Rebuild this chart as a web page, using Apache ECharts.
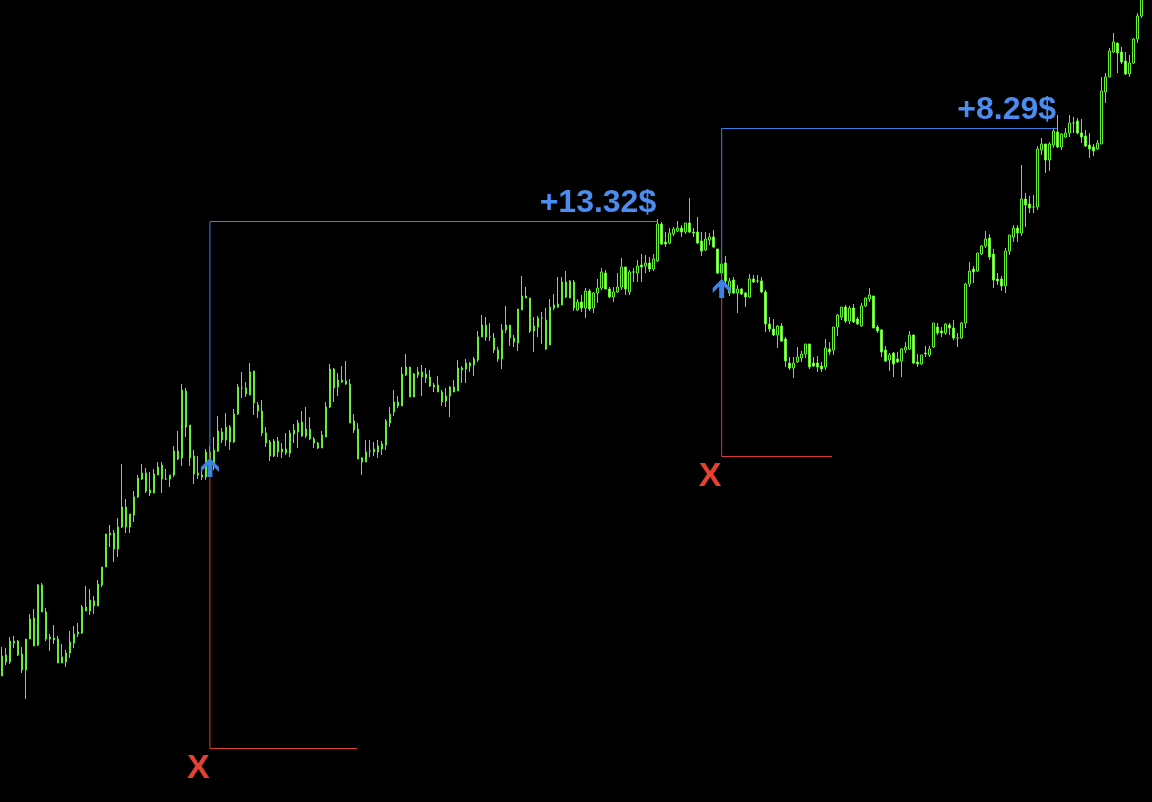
<!DOCTYPE html>
<html><head><meta charset="utf-8">
<script src="https://cdn.jsdelivr.net/npm/echarts@6/dist/echarts.min.js"></script>
<style>html,body{margin:0;padding:0;background:#000;overflow:hidden}#c{width:1152px;height:802px}</style>
</head><body><div id="c"></div><script>
// Price levels (arbitrary price units, 1 unit ~ 1 screen pixel)
const barCount = 288;
const categories = Array.from({length: barCount}, (_, i) => 'bar ' + (i + 1));

const opens = [
126,147,140,161,161,148,132,163,184,157,
217,190,165,164,163,139,140,149,159,168,
169,195,191,201,196,217,235,269,269,253,
275,295,275,287,305,323,329,312,309,327,
337,323,323,327,351,344,411,377,346,329,
327,325,350,336,351,370,362,375,360,388,
414,414,407,431,397,391,369,360,346,361,
350,353,349,368,370,380,366,373,363,359,
354,365,395,433,415,422,421,418,381,373,
344,340,351,353,350,353,357,379,390,400,
396,427,435,405,427,430,424,425,417,417,
410,401,406,415,411,434,433,439,437,442,
465,477,465,464,452,443,472,477,464,459,
492,506,504,471,475,484,482,457,494,495,
497,520,504,520,492,500,494,511,494,509,
514,529,513,505,510,515,535,510,530,529,
537,536,539,533,541,578,560,559,568,571,
574,570,579,570,570,561,552,562,565,553,
529,539,509,522,509,513,509,505,523,521,
521,510,478,473,467,476,463,439,434,440,
444,448,458,439,439,436,435,453,452,475,
485,495,481,494,483,476,496,503,506,475,
472,452,442,449,443,441,452,453,467,440,
438,449,447,455,475,471,469,477,474,464,
464,479,518,533,531,548,556,564,548,523,
523,516,551,565,574,569,603,598,595,595,
652,658,642,657,670,655,665,669,679,681,
669,666,657,655,653,658,710,725,750,759,
750,741,728,739,763,786];
const closes = [
146,140,161,159,147,132,163,183,156,217,
190,163,163,162,139,145,149,160,168,170,
195,191,202,196,218,235,268,267,253,275,
295,275,288,305,324,329,311,309,328,335,
323,323,327,351,343,412,375,344,328,327,
325,350,340,352,371,362,375,360,388,415,
414,408,430,399,391,369,359,346,361,350,
353,349,369,372,379,366,373,363,359,354,
367,395,433,414,422,420,418,379,372,343,
340,350,351,350,356,358,381,388,400,396,
428,435,405,428,430,425,428,416,415,410,
400,406,415,410,434,432,439,436,443,465,
477,465,465,452,443,472,477,464,460,493,
506,504,471,476,484,484,453,495,497,498,
520,505,521,494,500,494,511,493,509,514,
530,513,505,510,515,535,513,530,530,536,
535,539,533,543,578,558,558,569,573,574,
570,579,570,569,559,551,563,565,555,529,
538,521,521,509,513,508,505,523,520,521,
510,478,473,467,476,461,441,434,439,445,
448,458,435,436,435,433,454,450,475,487,
495,481,494,480,478,496,504,507,474,471,
450,441,447,438,440,453,455,467,439,438,
447,448,453,479,469,469,478,474,464,464,
479,518,531,530,549,556,563,545,522,521,
516,551,567,574,569,603,597,594,595,653,
658,642,658,671,655,668,669,679,679,669,
665,656,653,651,659,711,725,751,760,749,
740,728,739,763,786,806];
const lows = [
126,137,138,154,146,129,103,163,156,156,
190,161,151,158,139,139,135,144,154,165,
168,191,187,188,196,215,235,255,240,245,
274,269,269,280,304,322,309,306,309,327,
309,322,315,325,342,336,365,336,318,323,
322,322,332,332,350,359,356,352,359,387,
404,405,407,387,384,366,355,341,345,345,
344,347,345,359,354,365,364,362,354,353,
354,365,394,400,406,419,417,379,369,343,
327,340,345,346,344,347,352,375,386,394,
396,426,405,405,424,406,419,415,410,410,
396,395,385,410,411,419,419,430,426,440,
465,461,461,449,440,433,469,456,455,451,
492,504,469,450,465,458,452,457,492,494,
497,504,504,491,491,490,484,491,489,499,
512,513,504,500,509,512,507,507,520,520,
520,529,530,531,540,557,555,558,566,570,
565,568,569,565,558,546,551,557,554,528,
526,519,506,508,489,507,495,504,519,519,
509,470,470,466,454,460,435,432,424,439,
440,444,433,435,430,430,432,447,447,466,
482,479,478,479,477,475,495,500,474,469,
445,440,431,425,439,425,449,452,438,435,
437,445,445,454,467,465,467,467,462,455,
463,474,515,519,530,547,554,542,514,517,
511,509,547,560,560,566,575,589,589,592,
647,629,631,654,654,652,664,665,669,668,
659,655,644,646,652,658,699,725,749,729,
738,727,725,738,759,784];
const highs = [
155,154,165,166,162,155,163,188,193,218,
219,194,168,177,166,158,152,171,176,179,
197,216,213,206,222,235,268,277,272,284,
338,303,288,311,327,338,334,330,333,340,
340,333,327,356,371,418,414,377,352,346,
335,353,356,365,386,374,389,377,393,418,
430,420,439,431,400,402,375,362,363,365,
359,369,372,378,382,391,395,385,365,360,
371,400,438,434,429,436,441,423,388,379,
345,362,362,360,362,361,383,395,412,406,
435,448,435,429,435,437,434,432,419,426,
412,414,416,422,442,436,443,440,445,471,
487,485,479,469,455,478,496,477,467,493,
526,515,504,485,486,490,494,503,508,525,
525,531,522,522,503,507,514,513,510,523,
534,532,515,515,529,544,535,532,534,542,
548,547,545,548,583,580,570,574,575,581,
577,579,604,574,585,570,570,569,572,553,
540,546,524,525,517,514,510,528,527,527,
525,512,485,483,477,479,465,445,445,455,
451,458,458,445,446,440,463,460,475,488,
495,497,496,498,485,499,505,514,506,477,
473,456,449,450,450,454,460,471,467,448,
447,456,456,479,479,475,479,479,482,469,
480,519,540,536,549,557,571,568,553,529,
526,554,567,577,577,637,609,606,607,656,
664,658,660,674,687,669,674,687,685,684,
683,672,669,658,662,725,729,754,769,759,
755,750,747,764,789,808];

// Two trades: entry bar, level where the entry is marked, take-profit / stop-loss levels
const entryBars   = [52, 180];
const entryLevels = [350, 529];
const tpLevels    = [580.5, 673.5];
const tpEndBars   = [164, 264];
const slLevels    = [53.5, 345.5];
const slEndBars   = [88.8, 207.6];
const profitLabels = ['+13.32$', '+8.29$'];
const stopLabels   = ['X', 'X'];

const GREEN = '#66ee33', BLUE_LINE = '#3f7fe2', BLUE_TEXT = '#4a8cf0', RED = '#dc3a2c', RED_TEXT = '#e8402e';

const candleData = opens.map((o, i) => [o, closes[i], lows[i], highs[i]]);

const series = [{
  type: 'candlestick', xAxisIndex: 0, yAxisIndex: 0, data: candleData,
  barWidth: 2, clip: true, silent: true, animation: false,
  itemStyle: { color: '#000', color0: '#ffffff', borderColor: GREEN, borderColor0: GREEN, borderColorDoji: GREEN, borderWidth: 1 }
}];
entryBars.forEach((e, k) => {
  series.push({
    type: 'line', xAxisIndex: 1, yAxisIndex: 0, symbol: 'none', silent: true, animation: false, z: 5,
    lineStyle: { color: BLUE_LINE, width: 1 },
    data: [[e, entryLevels[k]], [e, tpLevels[k]], [tpEndBars[k], tpLevels[k]]]
  });
  series.push({
    type: 'line', xAxisIndex: 1, yAxisIndex: 0, symbol: 'none', silent: true, animation: false, z: 5,
    lineStyle: { color: RED, width: 1 },
    data: [[e, entryLevels[k]], [e, slLevels[k]], [slEndBars[k], slLevels[k]]]
  });
});

const chart = echarts.init(document.getElementById('c'), null, { renderer: 'canvas' });
chart.setOption({
  backgroundColor: '#000',
  animation: false,
  grid: { left: -0.5, right: 0.5, top: 0, bottom: 0, containLabel: false },
  xAxis: [
    { type: 'category', data: categories, boundaryGap: true, show: false },
    { type: 'value', min: -0.5, max: barCount - 0.5, show: false }
  ],
  yAxis: [{ type: 'value', min: 0, max: 802, show: false, splitLine: { show: false } }],
  series: series
});

const graphics = [];
entryBars.forEach((e, k) => {
  const tp = chart.convertToPixel({ xAxisIndex: 1, yAxisIndex: 0 }, [tpEndBars[k], tpLevels[k]]);
  const en = chart.convertToPixel({ xAxisIndex: 1, yAxisIndex: 0 }, [e, entryLevels[k]]);
  const sl = chart.convertToPixel({ xAxisIndex: 1, yAxisIndex: 0 }, [e, slLevels[k]]);
  graphics.push({
    type: 'text', z: 10, silent: true,
    style: { text: profitLabels[k], x: tp[0] - 1.5, y: tp[1] - 18, fill: BLUE_TEXT,
      font: 'bold 32px "Liberation Sans", Arial, sans-serif', align: 'right', verticalAlign: 'middle' }
  });
  graphics.push({
    type: 'text', z: 10, silent: true,
    style: { text: stopLabels[k], x: sl[0] - 11.5, y: sl[1] + 20.5, fill: RED_TEXT,
      font: 'bold 34px "Liberation Sans", Arial, sans-serif', align: 'center', verticalAlign: 'middle' }
  });
  const ax = en[0], ay = en[1] + 6;
  graphics.push({
    type: 'polygon', z: 10, silent: true,
    shape: { points: [[ax, ay], [ax + 9, ay + 9], [ax + 9, ay + 14], [ax + 2.5, ay + 7.5], [ax + 2.5, ay + 19],
      [ax - 2.5, ay + 19], [ax - 2.5, ay + 7.5], [ax - 9, ay + 14], [ax - 9, ay + 9]] },
    style: { fill: '#3f82e6' }
  });
});
chart.setOption({ graphic: graphics });
</script></body></html>
